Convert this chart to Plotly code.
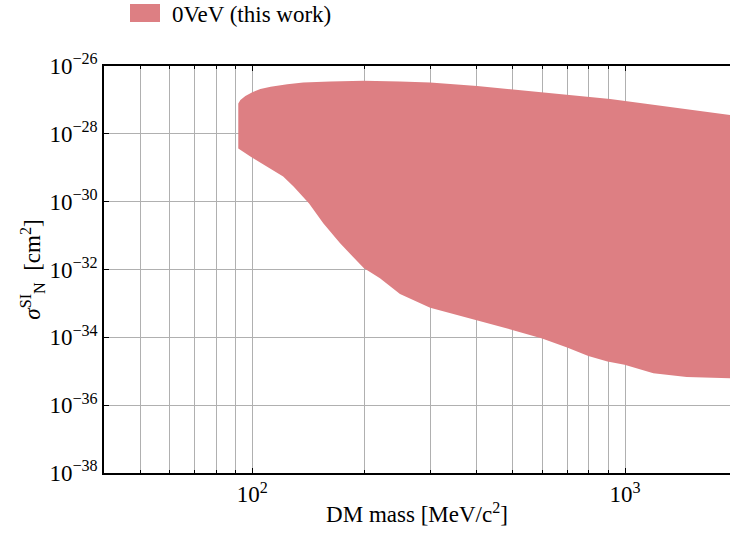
import plotly.graph_objects as go

# Excluded region: upper edge (left to right) in DM mass [MeV/c^2] and cross-section [cm^2]
upper_mass = [91.7, 92.9, 95.8, 100, 105.1, 112, 124.1, 137, 161.8, 199, 249, 300, 401, 501,
              599, 699, 801, 912, 1912, 2000]
upper_sigma = [7.9e-28, 1.0e-27, 1.30e-27, 1.68e-27, 2.10e-27, 2.45e-27, 2.88e-27, 3.24e-27,
               3.49e-27, 3.7e-27, 3.49e-27, 3.24e-27, 2.57e-27, 2.04e-27, 1.74e-27, 1.48e-27,
               1.245e-27, 1.07e-27, 3.59e-28, 3.36e-28]

# Lower edge (left to right)
lower_mass = [91.7, 98.8, 121, 129, 142, 155, 172, 199, 220, 249, 300, 400, 501, 599, 699,
              797, 897, 997, 1191, 1463, 1912, 2000]
lower_sigma = [3.7e-29, 2.14e-29, 5.5e-30, 2.8e-30, 8.9e-31, 2.3e-31, 5.9e-32, 1.1e-32, 5.5e-33,
               1.9e-33, 7.5e-34, 3.16e-34, 1.62e-34, 9.3e-35, 5.0e-35, 2.8e-35, 1.95e-35,
               1.55e-35, 8.7e-36, 6.8e-36, 6.2e-36, 6.1e-36]

series_name = "0VeV (this work)"
fill_color = "#dd7f83"

x_major = [100, 1000]
x_major_text = ["10<sup>2</sup>", "10<sup>3</sup>"]
x_minor = [50, 60, 70, 80, 90, 200, 300, 400, 500, 600, 700, 800, 900, 2000]
y_exponents = [-26, -28, -30, -32, -34, -36, -38]

FONT = "Liberation Serif"
GRID = "#b0b0b0"
TICK_SIZE = 23
TITLE_SIZE = 23

# Plot-area geometry in pixels, used to place the legend above the axes
L, T, W, H = 104, 66, 626, 407


def px_x(p):
    return (p - L) / W


def px_y(p):
    return 1 + (T - p) / H


poly_x = upper_mass + lower_mass[::-1] + [upper_mass[0]]
poly_y = upper_sigma + lower_sigma[::-1] + [upper_sigma[0]]

fig = go.Figure()
fig.add_trace(go.Scatter(
    x=poly_x, y=poly_y, mode="lines", fill="toself",
    fillcolor=fill_color, line=dict(width=0, color=fill_color),
    name=series_name, showlegend=False, hoverinfo="skip",
))

# Legend: filled swatch with its label above the axes
fig.add_shape(type="rect", xref="paper", yref="paper",
              x0=px_x(130), x1=px_x(160), y0=px_y(22), y1=px_y(4),
              fillcolor=fill_color, line=dict(width=0), layer="above")
fig.add_annotation(xref="paper", yref="paper", x=px_x(170), y=px_y(14),
                   text=series_name, showarrow=False, xanchor="left", yanchor="middle",
                   font=dict(family=FONT, size=TITLE_SIZE, color="black"))

fig.update_layout(
    width=730, height=536,
    margin=dict(l=L, r=730 - L - W, t=T, b=536 - T - H),
    paper_bgcolor="white", plot_bgcolor="white",
    font=dict(family=FONT, size=TICK_SIZE, color="black"),
    showlegend=False,
    xaxis=dict(
        type="log", range=[1.6021, 3.2815],
        tickmode="array", tickvals=x_major, ticktext=x_major_text,
        ticks="inside", ticklen=5, tickwidth=1.2, tickcolor="black",
        showgrid=True, gridcolor=GRID, gridwidth=1,
        minor=dict(tickmode="array", tickvals=x_minor, ticks="inside", ticklen=3,
                   tickcolor="black", showgrid=True, gridcolor=GRID, gridwidth=1),
        showline=True, linecolor="black", linewidth=1.5, mirror="ticks",
        zeroline=False, layer="above traces",
        title=dict(text="DM mass [MeV/c<sup>2</sup>]", font=dict(size=TITLE_SIZE), standoff=0),
        tickfont=dict(size=TICK_SIZE),
    ),
    yaxis=dict(
        type="log", range=[-38, -26],
        tickmode="array", tickvals=[10.0 ** e for e in y_exponents],
        ticktext=[f"10<sup>\u2212{abs(e)}</sup>" for e in y_exponents],
        ticks="inside", ticklen=5, tickwidth=1.2, tickcolor="black",
        showgrid=True, gridcolor=GRID, gridwidth=1,
        showline=True, linecolor="black", linewidth=1.5, mirror=False,
        zeroline=False, layer="above traces",
        title=dict(text="<i>σ</i><sup>SI</sup><sub>N</sub>  [cm<sup>2</sup>]",
                   font=dict(size=TITLE_SIZE), standoff=2),
        tickfont=dict(size=TICK_SIZE),
    ),
)

fig.write_html("out.html")
